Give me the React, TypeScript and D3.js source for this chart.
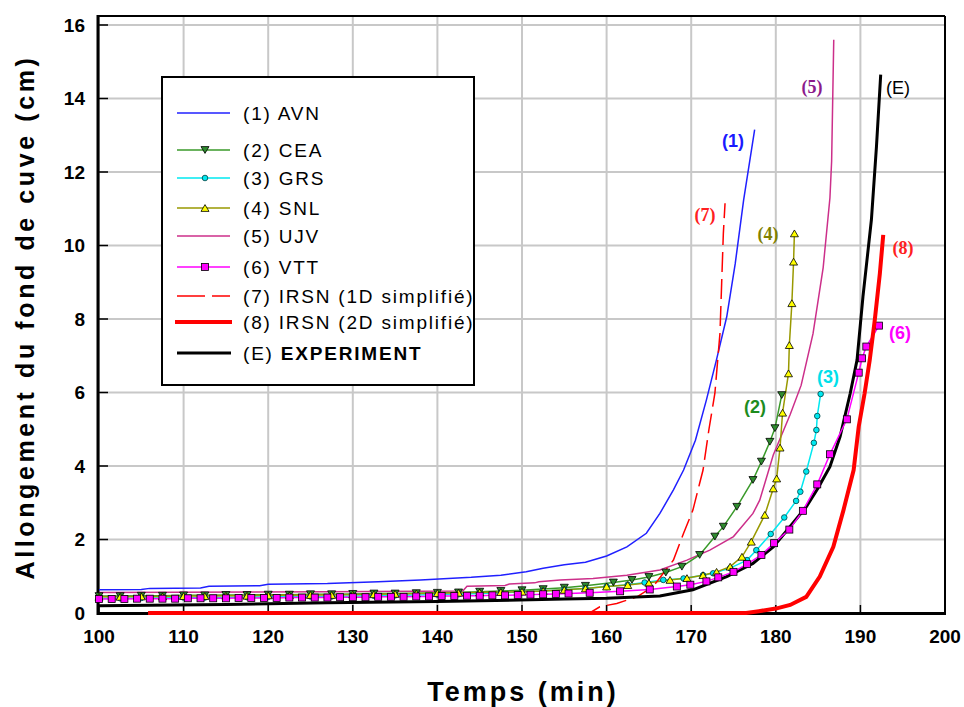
import React from 'react';
import * as d3 from 'd3';

type P = [number, number];

const xTicks = [100, 110, 120, 130, 140, 150, 160, 170, 180, 190, 200];
const yTicks = [0, 2, 4, 6, 8, 10, 12, 14, 16];

const avn: P[] = [[100,0.63],[105,0.64],[106,0.67],[112,0.68],[113,0.73],[119,0.74],[120,0.78],[127,0.8],[133,0.85],[138,0.9],[144,0.97],[147.5,1.03],[150.5,1.12],[152.5,1.22],[155,1.31],[157.5,1.38],[160,1.55],[162.4,1.8],[164.7,2.17],[166.3,2.71],[167.9,3.35],[169.1,3.89],[170.5,4.7],[171.8,5.8],[173,6.9],[174.2,8.06],[175.2,9.5],[176.2,11.24],[177.5,13.15]];

const cea: P[] = [[100,0.46],[102.5,0.46],[105,0.47],[107.5,0.47],[110,0.48],[112.5,0.48],[115,0.49],[117.5,0.49],[120,0.5],[122.5,0.5],[125,0.51],[127.5,0.51],[130,0.52],[132.5,0.53],[135,0.53],[137.5,0.54],[140,0.55],[142.5,0.56],[145,0.58],[147.5,0.6],[150,0.62],[152.5,0.65],[155,0.69],[157.5,0.74],[160.8,0.83],[163,0.9],[165,0.98],[167,1.1],[168.9,1.26],[171,1.58],[172.8,2.08],[173.8,2.35],[175.4,2.89],[177.3,3.62],[178.3,4.12],[179.3,4.66],[179.9,5.03],[180.7,5.93]];

const grs: P[] = [[100,0.4],[102.5,0.4],[105,0.41],[107.5,0.41],[110,0.42],[112.5,0.42],[115,0.43],[117.5,0.43],[120,0.44],[122.5,0.44],[125,0.45],[127.5,0.45],[130,0.46],[132.5,0.47],[135,0.48],[137.5,0.49],[140,0.5],[142.5,0.51],[145,0.53],[147.5,0.55],[150,0.57],[152.5,0.6],[155,0.63],[157.5,0.67],[160,0.72],[162.5,0.77],[164.5,0.83],[166.7,0.9],[169.1,0.94],[171.4,1.03],[172.6,1.08],[174.6,1.22],[176.6,1.44],[177.7,1.71],[179.4,2.15],[181,2.6],[182.4,3.05],[182.9,3.3],[183.6,3.85],[184.5,4.63],[184.8,4.98],[184.9,5.36],[185.3,5.96]];

const snl: P[] = [[100,0.44],[102.5,0.44],[105,0.45],[107.5,0.45],[110,0.46],[112.5,0.46],[115,0.47],[117.5,0.47],[120,0.48],[122.5,0.48],[125,0.49],[127.5,0.49],[130,0.5],[132.5,0.51],[135,0.52],[137.5,0.53],[140,0.54],[142.5,0.55],[145,0.56],[147.5,0.57],[150,0.58],[152.5,0.6],[155,0.63],[157.5,0.67],[160,0.72],[162.5,0.76],[165,0.82],[167.5,0.9],[169.5,0.95],[171.4,1.03],[173,1.12],[174.6,1.26],[176,1.53],[177.1,1.94],[178.7,2.67],[179.7,3.39],[180.1,3.66],[180.5,4.5],[180.8,5.45],[181.5,6.52],[181.6,7.29],[181.9,8.43],[182.1,9.56],[182.2,10.33]];

const ujv: P[] = [[100,0.56],[127,0.58],[143,0.6],[143.5,0.73],[148,0.75],[148.5,0.79],[151.5,0.82],[152,0.85],[154.5,0.9],[158.4,0.94],[162.4,1.03],[166.3,1.17],[169.5,1.44],[172.2,1.71],[175,2.08],[177.3,2.71],[178.1,3.07],[179.7,4.3],[181.7,5.4],[183,6.2],[184.4,7.6],[185.6,9.4],[186.4,11.3],[186.6,12.3],[186.85,15.6]];

const vtt: P[] = [[100,0.38],[101.5,0.38],[103,0.38],[104.5,0.39],[106,0.39],[107.5,0.39],[109,0.39],[110.5,0.4],[112,0.4],[113.5,0.4],[115,0.4],[116.5,0.41],[118,0.41],[119.5,0.41],[121,0.41],[122.5,0.42],[124,0.42],[125.5,0.42],[127,0.42],[128.5,0.43],[130,0.43],[131.5,0.43],[133,0.44],[134.5,0.44],[136,0.44],[137.5,0.45],[139,0.45],[140.5,0.46],[142,0.46],[143.5,0.47],[145,0.47],[146.5,0.48],[148,0.48],[149.5,0.49],[151,0.5],[152.5,0.51],[154,0.52],[155.5,0.53],[158,0.55],[161.6,0.59],[165.1,0.64],[168.3,0.72],[169.9,0.77],[171.8,0.86],[173.2,0.97],[175,1.12],[176.6,1.33],[178.3,1.58],[179.8,1.9],[181.6,2.27],[183.2,2.78],[184.9,3.5],[186.4,4.32],[188.4,5.27],[189.8,6.54],[190.2,6.93],[190.7,7.25],[192.2,7.82]];

const irsn1d: P[] = [[106,0],[158,0],[159.2,0.17],[161.2,0.26],[163.6,0.44],[165.5,0.72],[166.7,1.08],[167.9,1.44],[169.1,2.17],[170.2,2.8],[171,3.53],[171.4,3.89],[172.1,5.0],[172.8,5.98],[173.4,7.61],[173.6,8.97],[173.8,10.33],[174,11.15]];

const irsn2d: P[] = [[105.8,0],[176.5,0],[178,0.05],[180,0.12],[181.7,0.22],[183.6,0.44],[185.2,0.99],[186.8,1.8],[188,2.8],[189.2,3.89],[189.8,5.07],[190.5,5.98],[191.1,6.88],[191.7,7.97],[192.3,9.24],[192.7,10.29]];

const experiment: P[] = [[100,0.2],[115,0.23],[127,0.28],[140,0.31],[155,0.38],[160,0.4],[166.3,0.46],[170.2,0.63],[174.2,0.99],[177.3,1.35],[179.7,1.8],[181.5,2.3],[183.6,2.89],[185,3.4],[186.4,3.98],[187.6,4.8],[188.8,5.98],[189.6,6.88],[190.3,8.6],[191.3,10.7],[191.9,12.7],[192.4,14.65]];

const legendLabels = ['(1) AVN', '(2) CEA', '(3) GRS', '(4) SNL', '(5) UJV', '(6) VTT', '(7) IRSN (1D simplifié)', '(8) IRSN (2D simplifié)', '(E) '];
const curveTags = ['(1)', '(2)', '(3)', '(4)', '(5)', '(6)', '(7)', '(8)', '(E)'];

const C = {
  avn: '#2020ff', cea: '#3a9a2a', grs: '#00e8f0', snl: '#999900', ujv: '#cc2f8a',
  vtt: '#ff00ff', red: '#ff0000', exp: '#000000',
};

const sans = 'Arial, "Liberation Sans", sans-serif';
const serif = '"Times New Roman", "Liberation Serif", serif';

export default function App() {
  const x = d3.scaleLinear().domain([100, 200]).range([99, 945]);
  const y = d3.scaleLinear().domain([0, 16]).range([613, 25]);
  const line = d3.line<P>().x(d => x(d[0])).y(d => y(d[1]));

  const triDown = (cx: number, cy: number, s = 4) => `M${cx - s},${cy - s * 0.85}L${cx + s},${cy - s * 0.85}L${cx},${cy + s * 0.85}Z`;
  const triUp = (cx: number, cy: number, s = 4) => `M${cx - s},${cy + s * 0.85}L${cx + s},${cy + s * 0.85}L${cx},${cy - s * 0.85}Z`;

  const L = { x0: 177, x1: 230, mx: 205, tx: 243 };
  const legendY = [113, 150, 178, 208, 236, 267, 296, 322, 353];

  const tags: { t: string; x: number; y: number; c: string; f: string; w: number }[] = [
    { t: curveTags[0], x: 733, y: 141, c: '#1a1aff', f: sans, w: 700 },
    { t: curveTags[1], x: 755, y: 407, c: '#1e8c1e', f: sans, w: 700 },
    { t: curveTags[2], x: 828, y: 377, c: '#00e0ea', f: sans, w: 700 },
    { t: curveTags[3], x: 768, y: 234, c: '#808000', f: serif, w: 700 },
    { t: curveTags[4], x: 812, y: 87, c: '#8b1a8b', f: serif, w: 700 },
    { t: curveTags[5], x: 900, y: 333, c: '#ff00ff', f: sans, w: 700 },
    { t: curveTags[6], x: 705, y: 215, c: '#ff2020', f: serif, w: 700 },
    { t: curveTags[7], x: 903, y: 248, c: '#ff2020', f: serif, w: 700 },
    { t: curveTags[8], x: 898, y: 88, c: '#000000', f: sans, w: 400 },
  ];

  return (
    <svg width={964} height={707} style={{ position: 'absolute', left: 0, top: 0, background: '#fff' }} fontFamily={sans}>
      <rect x={0} y={0} width={964} height={707} fill="#fff" />
      {/* grid */}
      {xTicks.map(t => (
        <line key={'gx' + t} x1={x(t)} x2={x(t)} y1={16} y2={613} stroke="#c8c8c8" strokeWidth={2} />
      ))}
      {yTicks.map(t => (
        <line key={'gy' + t} x1={99} x2={945} y1={y(t)} y2={y(t)} stroke="#c8c8c8" strokeWidth={2} />
      ))}
      {/* frame */}
      <line x1={99} x2={945} y1={16} y2={16} stroke="#000" strokeWidth={2} />
      <line x1={945} x2={945} y1={16} y2={614} stroke="#000" strokeWidth={2} />
      <line x1={98} x2={98} y1={15} y2={615} stroke="#000" strokeWidth={3} />
      <line x1={97} x2={946} y1={613.5} y2={613.5} stroke="#000" strokeWidth={3} />
      {yTicks.map(t => (
        <line key={'ty' + t} x1={99} x2={108} y1={y(t)} y2={y(t)} stroke="#000" strokeWidth={1.5} />
      ))}
      {xTicks.map(t => (
        <line key={'tx' + t} x1={x(t)} x2={x(t)} y1={613} y2={605} stroke="#000" strokeWidth={1.5} />
      ))}
      {/* tick labels */}
      {yTicks.map(t => (
        <text key={'ly' + t} x={85} y={y(t)} textAnchor="end" dominantBaseline="central" fontSize={19} fontWeight={700}>{t}</text>
      ))}
      {xTicks.map(t => (
        <text key={'lx' + t} x={x(t)} y={643} textAnchor="middle" fontSize={19} fontWeight={700}>{t}</text>
      ))}
      {/* axis titles */}
      <text x={523} y={701} textAnchor="middle" fontSize={27} fontWeight={700} letterSpacing={3}>Temps (min)</text>
      <text transform="translate(34,317) rotate(-90)" textAnchor="middle" fontSize={25} fontWeight={700} letterSpacing={3.6}>Allongement du fond de cuve (cm)</text>

      {/* series lines */}
      <path d={line(avn) || ''} fill="none" stroke={C.avn} strokeWidth={1.5} />
      <path d={line(ujv) || ''} fill="none" stroke={C.ujv} strokeWidth={1.5} />
      <path d={line(cea) || ''} fill="none" stroke={C.cea} strokeWidth={1.5} />
      <path d={line(grs) || ''} fill="none" stroke={C.grs} strokeWidth={1.5} />
      <path d={line(snl) || ''} fill="none" stroke={C.snl} strokeWidth={1.5} />
      <path d={line(irsn1d) || ''} fill="none" stroke={C.red} strokeWidth={1.5} strokeDasharray="20,7" />
      <path d={line(experiment) || ''} fill="none" stroke={C.exp} strokeWidth={3} />
      <path d={line(vtt) || ''} fill="none" stroke={C.vtt} strokeWidth={1.5} />
      {/* markers */}
      {cea.map((d, i) => <path key={'mc' + i} d={triDown(x(d[0]), y(d[1]))} fill="#2e8b2e" stroke="#000" strokeWidth={0.8} />)}
      {grs.map((d, i) => <circle key={'mg' + i} cx={x(d[0])} cy={y(d[1])} r={2.8} fill={C.grs} stroke="#004040" strokeWidth={0.8} />)}
      {snl.map((d, i) => <path key={'ms' + i} d={triUp(x(d[0]), y(d[1]))} fill="#ffff00" stroke="#000" strokeWidth={0.8} />)}
      {vtt.map((d, i) => <rect key={'mv' + i} x={x(d[0]) - 3.5} y={y(d[1]) - 3.5} width={7} height={7} fill={C.vtt} stroke="#000" strokeWidth={0.8} />)}
      <path d={line(irsn2d) || ''} fill="none" stroke={C.red} strokeWidth={4} />

      {/* curve tags */}
      {tags.map(t => (
        <text key={t.t} x={t.x} y={t.y} textAnchor="middle" dominantBaseline="central" fontSize={18} fontWeight={t.w} fill={t.c} fontFamily={t.f}>{t.t}</text>
      ))}

      {/* legend */}
      <rect x={162} y={77} width={312} height={308} fill="#fff" stroke="#000" strokeWidth={2} />
      <line x1={L.x0} x2={L.x1} y1={legendY[0]} y2={legendY[0]} stroke={C.avn} strokeWidth={1.5} />
      <line x1={L.x0} x2={L.x1} y1={legendY[1]} y2={legendY[1]} stroke={C.cea} strokeWidth={1.5} />
      <path d={triDown(L.mx, legendY[1])} fill="#2e8b2e" stroke="#000" strokeWidth={0.8} />
      <line x1={L.x0} x2={L.x1} y1={legendY[2]} y2={legendY[2]} stroke={C.grs} strokeWidth={1.5} />
      <circle cx={L.mx} cy={legendY[2]} r={2.8} fill={C.grs} stroke="#004040" strokeWidth={0.8} />
      <line x1={L.x0} x2={L.x1} y1={legendY[3]} y2={legendY[3]} stroke={C.snl} strokeWidth={1.5} />
      <path d={triUp(L.mx, legendY[3])} fill="#ffff00" stroke="#000" strokeWidth={0.8} />
      <line x1={L.x0} x2={L.x1} y1={legendY[4]} y2={legendY[4]} stroke={C.ujv} strokeWidth={1.5} />
      <line x1={L.x0} x2={L.x1} y1={legendY[5]} y2={legendY[5]} stroke={C.vtt} strokeWidth={1.5} />
      <rect x={L.mx - 3.5} y={legendY[5] - 3.5} width={7} height={7} fill={C.vtt} stroke="#000" strokeWidth={0.8} />
      <line x1={L.x0} x2={L.x1} y1={legendY[6]} y2={legendY[6]} stroke={C.red} strokeWidth={1.5} strokeDasharray="28,7" />
      <line x1={L.x0 - 2} x2={L.x1 + 2} y1={legendY[7]} y2={legendY[7]} stroke={C.red} strokeWidth={4} />
      <line x1={L.x0} x2={L.x1 + 1} y1={legendY[8]} y2={legendY[8]} stroke={C.exp} strokeWidth={3} />
      {legendLabels.map((s, i) => (
        <text key={'lg' + i} x={L.tx} y={legendY[i]} dominantBaseline="central" fontSize={19} letterSpacing={1.8}>
          {s}
          {i === 8 ? <tspan fontWeight={700}>EXPERIMENT</tspan> : null}
        </text>
      ))}
    </svg>
  );
}
